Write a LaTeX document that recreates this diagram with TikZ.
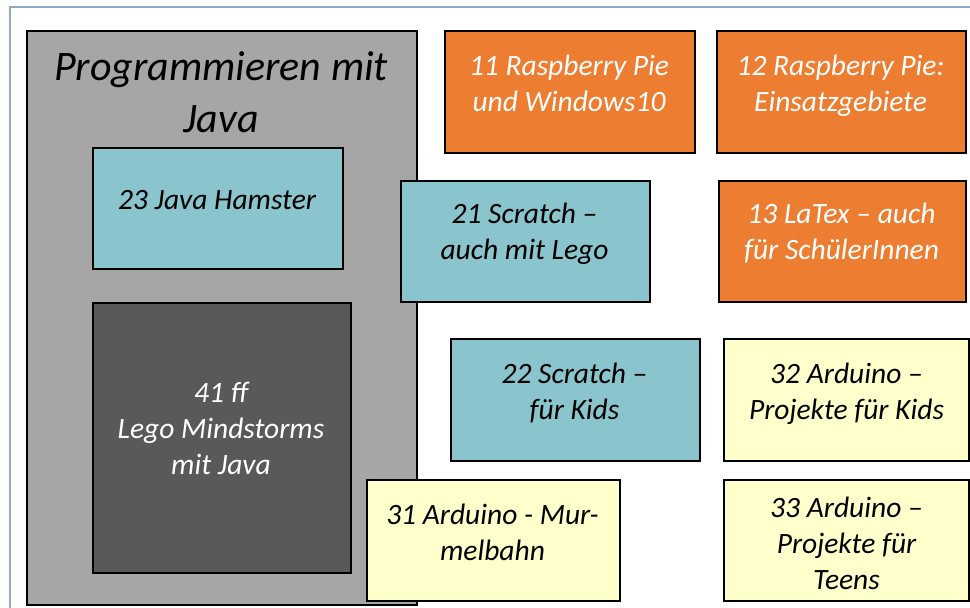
\documentclass[tikz,border=0pt]{standalone}
\usepackage{fontspec}
\setmainfont{Carlito}
\definecolor{framec}{HTML}{8DA9C9}
\definecolor{grayc}{HTML}{A6A6A6}
\definecolor{darkc}{HTML}{595959}
\definecolor{bluec}{HTML}{8AC4CC}
\definecolor{orangec}{HTML}{ED7D31}
\definecolor{yellowc}{HTML}{FFFFCC}
\newcommand{\ml}[1]{\begin{tabular}[t]{@{}c@{}}#1\end{tabular}}
\begin{document}
\begin{tikzpicture}[x=1pt,y=-1pt,
  box/.style={draw=black, line width=1.5pt, inner sep=0pt, anchor=north west},
  txt/.style={anchor=base, inner sep=0pt, font=\fontsize{29.5}{36}\selectfont\itshape},
  ttl/.style={anchor=base, inner sep=0pt, font=\fontsize{42}{52}\selectfont\itshape}]
\useasboundingbox[fill=white] (0,0) rectangle (970,608);
% frame
\coordinate (fa) at (10,608);
\coordinate (fb) at (10,7);
\coordinate (fc) at (970,7);
\draw[framec, line width=2pt] (fa) -- (fb) -- (fc);
% big gray box
\node[box, fill=grayc, minimum width=390pt, minimum height=574pt] (g) at (26,30) {};
\node[ttl] (tg) at (221,80) {\ml{Programmieren mit\\Java}};
% 23
\node[box, fill=bluec, minimum width=250pt, minimum height=121pt] (b23) at (92,147) {};
\node[txt] (t23) at (217,209) {23 Java Hamster};
% 41
\node[box, fill=darkc, minimum width=258pt, minimum height=270pt] (b41) at (92,302) {};
\node[txt, text=white] (t41) at (221,402) {\ml{41 ff\\Lego Mindstorms\\mit Java}};
% 11
\node[box, fill=orangec, minimum width=250pt, minimum height=122pt] (b11) at (444,30) {};
\node[txt, text=white] (t11) at (569,75) {\ml{11 Raspberry Pie\\und Windows10}};
% 12
\node[box, fill=orangec, minimum width=249pt, minimum height=122pt] (b12) at (716,30) {};
\node[txt, text=white] (t12) at (840.5,75) {\ml{12 Raspberry Pie:\\Einsatzgebiete}};
% 21
\node[box, fill=bluec, minimum width=249pt, minimum height=121pt] (b21) at (400,180) {};
\node[txt] (t21) at (524.5,223) {\ml{21 Scratch --\\auch mit Lego}};
% 13
\node[box, fill=orangec, minimum width=247pt, minimum height=121pt] (b13) at (718,180) {};
\node[txt, text=white] (t13) at (841.5,223) {\ml{13 LaTex -- auch\\für SchülerInnen}};
% 22
\node[box, fill=bluec, minimum width=249pt, minimum height=122pt] (b22) at (450,338) {};
\node[txt] (t22) at (574.5,383) {\ml{22 Scratch --\\für Kids}};
% 32
\node[box, fill=yellowc, minimum width=245pt, minimum height=122pt] (b32) at (723,338) {};
\node[txt] (t32) at (846.5,383) {\ml{32 Arduino --\\Projekte für Kids}};
% 31
\node[box, fill=yellowc, minimum width=253pt, minimum height=121pt] (b31) at (366,479) {};
\node[txt] (t31) at (492.5,524) {\ml{31 Arduino - Mur-\\melbahn}};
% 33
\node[box, fill=yellowc, minimum width=245pt, minimum height=121pt] (b33) at (723,479) {};
\node[txt] (t33) at (846.5,517) {\ml{33 Arduino --\\Projekte für\\Teens}};
\end{tikzpicture}
\end{document}
